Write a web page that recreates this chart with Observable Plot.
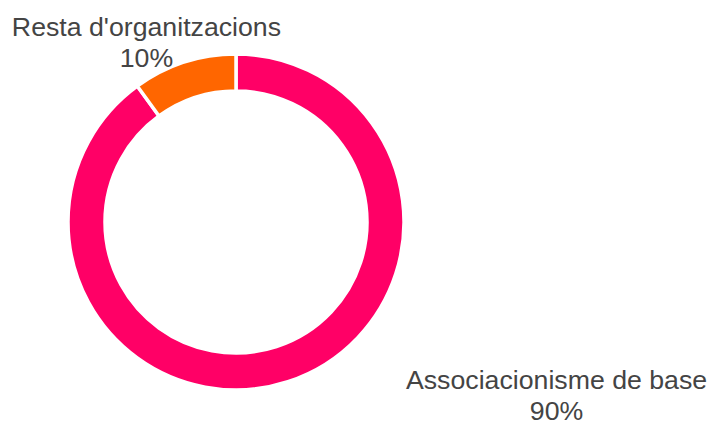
<!DOCTYPE html>
<html>
<head>
<meta charset="utf-8">
<script src="https://cdn.jsdelivr.net/npm/d3@7"></script>
<script src="https://cdn.jsdelivr.net/npm/@observablehq/plot@0.6"></script>
<style>
  html, body { margin: 0; padding: 0; background: #fff; }
</style>
</head>
<body>
<div id="chart"></div>
<script>
const categories = ["Associacionisme de base", "Resta d'organitzacions"];
const values = [90, 10];
const percentLabels = ["90%", "10%"];
const colors = ["#FF0066", "#FF6600"];

const slices = categories.map((c, i) => ({ category: c, value: values[i], label: percentLabels[i], color: colors[i] }));

const pie = d3.pie().value(d => d.value).sort(null);
const arcsData = pie(slices);

// label anchors (in donut units: center 0,0, radius 1)
const labelPos = {
  "Associacionisme de base": [1.905, -0.863],
  "Resta d'organitzacions": [-0.536, 1.238]
};
const labelRows = slices.map(s => ({
  text: s.category + "\n" + s.label,
  x: labelPos[s.category][0],
  y: labelPos[s.category][1]
}));

const innerRatio = 131 / 168;

function donutMark(index, scales, values, dimensions) {
  const cx = scales.x(0), cy = scales.y(0);
  const r = scales.x(1) - scales.x(0);
  const arc = d3.arc().innerRadius(r * innerRatio).outerRadius(r);
  const g = d3.create("svg:g").attr("transform", `translate(${cx},${cy})`);
  g.selectAll("path").data(arcsData).join("path")
    .attr("d", arc)
    .attr("fill", d => d.data.color)
    .attr("stroke", "#fff")
    .attr("stroke-width", 3.5)
    .attr("stroke-linejoin", "round");
  return g.node();
}

const chart = Plot.plot({
  width: 709,
  height: 423,
  margin: 0,
  x: { domain: [-1, 1], range: [68, 404], axis: null },
  y: { domain: [-1, 1], range: [390, 54], axis: null },
  style: { background: "#fff", fontFamily: "'Liberation Sans', Arial, sans-serif" },
  marks: [
    donutMark,
    Plot.text(labelRows, {
      x: "x", y: "y", text: "text",
      textAnchor: "middle", lineAnchor: "top",
      fontSize: 26.7, lineHeight: 1.15, fill: "#444444"
    })
  ]
});
document.getElementById("chart").appendChild(chart);
</script>
</body>
</html>
